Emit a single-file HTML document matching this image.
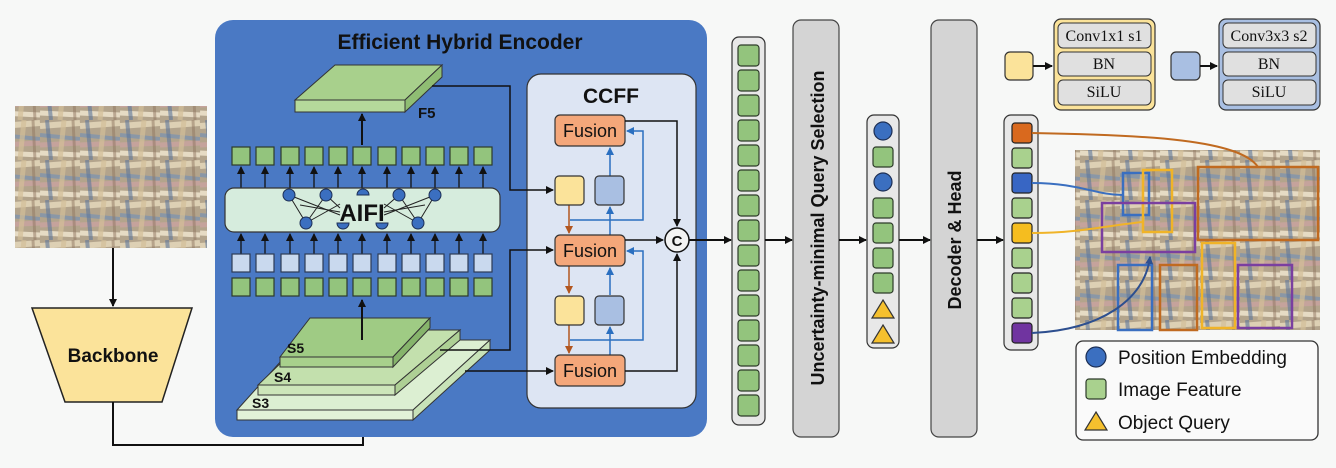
<!DOCTYPE html>
<html><head><meta charset="utf-8"><style>
html,body{margin:0;padding:0;background:#f7f8f7;}
svg{display:block;font-family:"Liberation Sans",sans-serif;}
.b{font-weight:bold;}
</style></head><body>
<svg width="1336" height="468" viewBox="0 0 1336 468" xmlns="http://www.w3.org/2000/svg">
<defs>
<marker id="ak" markerWidth="8" markerHeight="8" refX="7" refY="4" orient="auto" markerUnits="userSpaceOnUse"><path d="M0,0 L8,4 L0,8 z" fill="#111"/></marker>
<marker id="ab" markerWidth="8" markerHeight="8" refX="7" refY="4" orient="auto" markerUnits="userSpaceOnUse"><path d="M0,0 L8,4 L0,8 z" fill="#2a6fc0"/></marker>
<marker id="ao" markerWidth="8" markerHeight="8" refX="7" refY="4" orient="auto" markerUnits="userSpaceOnUse"><path d="M0,0 L8,4 L0,8 z" fill="#b2561f"/></marker>
<marker id="an" markerWidth="8" markerHeight="8" refX="7" refY="4" orient="auto" markerUnits="userSpaceOnUse"><path d="M0,0 L8,4 L0,8 z" fill="#2d4f8f"/></marker>
<pattern id="yarn" width="40" height="40" patternUnits="userSpaceOnUse">
<rect width="40" height="40" fill="#b3a48c"/>
<path d="M0,6 L40,3" stroke="#ddd0b4" stroke-width="6"/>
<path d="M0,15 L40,19" stroke="#7f93ad" stroke-width="4" opacity="0.8"/>
<path d="M0,25 L40,23" stroke="#c9a3a0" stroke-width="5" opacity="0.8"/>
<path d="M0,33 L40,35" stroke="#e6dbc4" stroke-width="5"/>
<path d="M7,0 L11,40" stroke="#5d769a" stroke-width="4" opacity="0.6"/>
<path d="M24,0 L20,40" stroke="#d3bf98" stroke-width="5" opacity="0.7"/>
<path d="M33,0 L35,40" stroke="#8f7560" stroke-width="3" opacity="0.5"/>
</pattern>
</defs>

<!-- input image -->
<rect x="15" y="106" width="192" height="142" fill="url(#yarn)"/>
<line x1="113" y1="248" x2="113" y2="306" stroke="#111" stroke-width="2" marker-end="url(#ak)"/>
<polygon points="32,308 192,308 162,402 65,402" fill="#fbe39a" stroke="#222" stroke-width="1.5"/>
<text x="113" y="362" text-anchor="middle" class="b" font-size="19" fill="#111">Backbone</text>
<polyline points="113,402 113,445 363,445 363,422" fill="none" stroke="#111" stroke-width="2" marker-end="url(#ak)"/>

<!-- encoder -->
<rect x="215" y="20" width="492" height="417" rx="18" fill="#4a79c4"/>
<text x="460" y="49" text-anchor="middle" class="b" font-size="21" fill="#111">Efficient Hybrid Encoder</text>
<!-- F5 -->
<polygon points="295,100 335,65 442,65 405,100" fill="#a8d08c" stroke="#333" stroke-width="1"/>
<polygon points="295,100 405,100 405,112 295,112" fill="#b5d99b" stroke="#333" stroke-width="1"/>
<polygon points="405,100 442,65 442,77 405,112" fill="#8fbd73" stroke="#333" stroke-width="1"/>
<text x="418" y="118" class="b" font-size="15" fill="#111">F5</text>
<line x1="362" y1="145" x2="362" y2="114" stroke="#111" stroke-width="2" marker-end="url(#ak)"/>
<g stroke="#2d3b2a" stroke-width="1.2">
<rect x="232" y="147" width="18" height="18" fill="#93c47d"/><rect x="256" y="147" width="18" height="18" fill="#93c47d"/><rect x="281" y="147" width="18" height="18" fill="#93c47d"/><rect x="305" y="147" width="18" height="18" fill="#93c47d"/><rect x="329" y="147" width="18" height="18" fill="#93c47d"/><rect x="353" y="147" width="18" height="18" fill="#93c47d"/><rect x="378" y="147" width="18" height="18" fill="#93c47d"/><rect x="402" y="147" width="18" height="18" fill="#93c47d"/><rect x="426" y="147" width="18" height="18" fill="#93c47d"/><rect x="450" y="147" width="18" height="18" fill="#93c47d"/><rect x="474" y="147" width="18" height="18" fill="#93c47d"/>
</g>
<g stroke="#111" stroke-width="1.3" marker-end="url(#ak)">
<line x1="241" y1="188" x2="241" y2="167"/><line x1="265" y1="188" x2="265" y2="167"/><line x1="290" y1="188" x2="290" y2="167"/><line x1="314" y1="188" x2="314" y2="167"/><line x1="338" y1="188" x2="338" y2="167"/><line x1="362" y1="188" x2="362" y2="167"/><line x1="387" y1="188" x2="387" y2="167"/><line x1="411" y1="188" x2="411" y2="167"/><line x1="435" y1="188" x2="435" y2="167"/><line x1="459" y1="188" x2="459" y2="167"/><line x1="483" y1="188" x2="483" y2="167"/>
<line x1="241" y1="254" x2="241" y2="234"/><line x1="265" y1="254" x2="265" y2="234"/><line x1="290" y1="254" x2="290" y2="234"/><line x1="314" y1="254" x2="314" y2="234"/><line x1="338" y1="254" x2="338" y2="234"/><line x1="362" y1="254" x2="362" y2="234"/><line x1="387" y1="254" x2="387" y2="234"/><line x1="411" y1="254" x2="411" y2="234"/><line x1="435" y1="254" x2="435" y2="234"/><line x1="459" y1="254" x2="459" y2="234"/><line x1="483" y1="254" x2="483" y2="234"/>
</g>
<rect x="225" y="188" width="275" height="44" rx="9" fill="#d6ecdd" stroke="#333" stroke-width="1.2"/>
<g stroke="#222" stroke-width="1">
<line x1="289" y1="195" x2="306" y2="223"/><line x1="289" y1="195" x2="340" y2="215"/><line x1="326" y1="195" x2="306" y2="223"/><line x1="326" y1="195" x2="340" y2="208"/><line x1="300" y1="205" x2="340" y2="212"/><line x1="306" y1="223" x2="340" y2="204"/>
<line x1="435" y1="195" x2="418" y2="223"/><line x1="435" y1="195" x2="384" y2="215"/><line x1="399" y1="195" x2="418" y2="223"/><line x1="399" y1="195" x2="384" y2="208"/><line x1="425" y1="205" x2="384" y2="212"/><line x1="418" y1="223" x2="384" y2="204"/>
</g>
<g fill="#3b6fc0" stroke="#1d2f55" stroke-width="1">
<circle cx="289" cy="195" r="6"/><circle cx="326" cy="195" r="6"/><circle cx="399" cy="195" r="6"/><circle cx="435" cy="195" r="6"/>
<circle cx="306" cy="223" r="6"/><circle cx="418" cy="223" r="6"/>
<path d="M357,195 a6,6 0 0 1 12,0 z"/><path d="M337,223 a6,6 0 0 0 12,0 z"/><path d="M376,223 a6,6 0 0 0 12,0 z"/>
</g>
<text x="362" y="221" text-anchor="middle" class="b" font-size="24" fill="#111">AIFI</text>
<g stroke="#2d3b55" stroke-width="1.2">
<rect x="232" y="254" width="18" height="18" fill="#c9d9ee"/><rect x="256" y="254" width="18" height="18" fill="#c9d9ee"/><rect x="281" y="254" width="18" height="18" fill="#c9d9ee"/><rect x="305" y="254" width="18" height="18" fill="#c9d9ee"/><rect x="329" y="254" width="18" height="18" fill="#c9d9ee"/><rect x="353" y="254" width="18" height="18" fill="#c9d9ee"/><rect x="378" y="254" width="18" height="18" fill="#c9d9ee"/><rect x="402" y="254" width="18" height="18" fill="#c9d9ee"/><rect x="426" y="254" width="18" height="18" fill="#c9d9ee"/><rect x="450" y="254" width="18" height="18" fill="#c9d9ee"/><rect x="474" y="254" width="18" height="18" fill="#c9d9ee"/>
</g>
<g stroke="#2d3b2a" stroke-width="1.2">
<rect x="232" y="278" width="18" height="18" fill="#93c47d"/><rect x="256" y="278" width="18" height="18" fill="#93c47d"/><rect x="281" y="278" width="18" height="18" fill="#93c47d"/><rect x="305" y="278" width="18" height="18" fill="#93c47d"/><rect x="329" y="278" width="18" height="18" fill="#93c47d"/><rect x="353" y="278" width="18" height="18" fill="#93c47d"/><rect x="378" y="278" width="18" height="18" fill="#93c47d"/><rect x="402" y="278" width="18" height="18" fill="#93c47d"/><rect x="426" y="278" width="18" height="18" fill="#93c47d"/><rect x="450" y="278" width="18" height="18" fill="#93c47d"/><rect x="474" y="278" width="18" height="18" fill="#93c47d"/>
</g>
<!-- slabs -->
<polygon points="237,410 300,340 490,340 413,410" fill="#dcefd2" stroke="#333" stroke-width="1"/>
<polygon points="237,410 413,410 413,420 237,420" fill="#e2f2d8" stroke="#333" stroke-width="1"/>
<polygon points="413,410 490,340 490,350 413,420" fill="#c8e2b8" stroke="#333" stroke-width="1"/>
<polygon points="258,385 315,330 460,330 395,385" fill="#c3e0ad" stroke="#333" stroke-width="1"/>
<polygon points="258,385 395,385 395,395 258,395" fill="#cde6ba" stroke="#333" stroke-width="1"/>
<polygon points="395,385 460,330 460,340 395,395" fill="#aed095" stroke="#333" stroke-width="1"/>
<polygon points="280,357 310,318 430,318 393,357" fill="#9fcb84" stroke="#333" stroke-width="1"/>
<polygon points="280,357 393,357 393,367 280,367" fill="#a8d08c" stroke="#333" stroke-width="1"/>
<polygon points="393,357 430,318 430,328 393,367" fill="#86b46b" stroke="#333" stroke-width="1"/>
<text x="287" y="353" class="b" font-size="14" fill="#111">S5</text>
<text x="274" y="382" class="b" font-size="14" fill="#111">S4</text>
<text x="252" y="408" class="b" font-size="14" fill="#111">S3</text>
<line x1="362" y1="340" x2="362" y2="300" stroke="#111" stroke-width="2" marker-end="url(#ak)"/>

<!-- CCFF -->
<rect x="527" y="74" width="169" height="334" rx="14" fill="#dde5f3" stroke="#333" stroke-width="1.2"/>
<text x="611" y="103" text-anchor="middle" class="b" font-size="21" fill="#111">CCFF</text>
<polyline points="432,86 510,86 510,190 553,190" fill="none" stroke="#111" stroke-width="1.5" marker-end="url(#ak)"/>
<polyline points="440,350 510,350 510,250 553,250" fill="none" stroke="#111" stroke-width="1.5" marker-end="url(#ak)"/>
<polyline points="465,371 553,371" fill="none" stroke="#111" stroke-width="1.5" marker-end="url(#ak)"/>
<g fill="none" stroke="#2a6fc0" stroke-width="1.5">
<line x1="610" y1="176" x2="610" y2="148" marker-end="url(#ab)"/>
<line x1="610" y1="235" x2="610" y2="207" marker-end="url(#ab)"/>
<polyline points="570,220 643,220 643,131 627,131" marker-end="url(#ab)"/>
<line x1="610" y1="295" x2="610" y2="268" marker-end="url(#ab)"/>
<line x1="610" y1="355" x2="610" y2="327" marker-end="url(#ab)"/>
<polyline points="570,340 643,340 643,251 627,251" marker-end="url(#ab)"/>
</g>
<g stroke="#b2561f" stroke-width="1.5">
<line x1="569" y1="205" x2="569" y2="233" marker-end="url(#ao)"/>
<line x1="569" y1="266" x2="569" y2="293" marker-end="url(#ao)"/>
<line x1="569" y1="325" x2="569" y2="353" marker-end="url(#ao)"/>
</g>
<g fill="#f4a77a" stroke="#333" stroke-width="1.2">
<rect x="555" y="115" width="70" height="31" rx="5"/>
<rect x="555" y="235" width="70" height="31" rx="5"/>
<rect x="555" y="355" width="70" height="31" rx="5"/>
</g>
<g font-size="18" fill="#111" text-anchor="middle">
<text x="590" y="137">Fusion</text><text x="590" y="257">Fusion</text><text x="590" y="377">Fusion</text>
</g>
<g stroke="#333" stroke-width="1.2">
<rect x="555" y="176" width="29" height="29" rx="4" fill="#fbe39a"/>
<rect x="595" y="176" width="29" height="29" rx="4" fill="#a9bfe2"/>
<rect x="555" y="296" width="29" height="29" rx="4" fill="#fbe39a"/>
<rect x="595" y="296" width="29" height="29" rx="4" fill="#a9bfe2"/>
</g>
<g fill="none" stroke="#111" stroke-width="1.5">
<polyline points="625,121 677,121 677,226" marker-end="url(#ak)"/>
<line x1="625" y1="240" x2="663" y2="240" marker-end="url(#ak)"/>
<polyline points="625,371 677,371 677,254" marker-end="url(#ak)"/>
</g>
<circle cx="677" cy="240" r="12" fill="#f3f3f3" stroke="#111" stroke-width="1.5"/>
<text x="677" y="246" text-anchor="middle" class="b" font-size="15" fill="#111">C</text>
<line x1="689" y1="240" x2="731" y2="240" stroke="#111" stroke-width="2" marker-end="url(#ak)"/>

<!-- token column -->
<rect x="732" y="37" width="33" height="388" rx="7" fill="#e8e8e8" stroke="#333" stroke-width="1.2"/>
<g fill="#93c47d" stroke="#2d3b2a" stroke-width="1.2">
<rect x="738" y="45" width="21" height="21" rx="3"/><rect x="738" y="70" width="21" height="21" rx="3"/><rect x="738" y="95" width="21" height="21" rx="3"/><rect x="738" y="120" width="21" height="21" rx="3"/><rect x="738" y="145" width="21" height="21" rx="3"/><rect x="738" y="170" width="21" height="21" rx="3"/><rect x="738" y="195" width="21" height="21" rx="3"/><rect x="738" y="220" width="21" height="21" rx="3"/><rect x="738" y="245" width="21" height="21" rx="3"/><rect x="738" y="270" width="21" height="21" rx="3"/><rect x="738" y="295" width="21" height="21" rx="3"/><rect x="738" y="320" width="21" height="21" rx="3"/><rect x="738" y="345" width="21" height="21" rx="3"/><rect x="738" y="370" width="21" height="21" rx="3"/><rect x="738" y="395" width="21" height="21" rx="3"/>
</g>
<line x1="765" y1="240" x2="792" y2="240" stroke="#111" stroke-width="2" marker-end="url(#ak)"/>
<rect x="793" y="20" width="46" height="417" rx="8" fill="#d4d4d4" stroke="#444" stroke-width="1.2"/>
<text transform="translate(824,228) rotate(-90)" text-anchor="middle" class="b" font-size="18" fill="#111">Uncertainty-minimal Query Selection</text>
<line x1="839" y1="240" x2="866" y2="240" stroke="#111" stroke-width="2" marker-end="url(#ak)"/>
<rect x="867" y="115" width="32" height="233" rx="7" fill="#e8e8e8" stroke="#333" stroke-width="1.2"/>
<g fill="#3b6fc0" stroke="#1d2f55" stroke-width="1.2"><circle cx="883" cy="131" r="9"/><circle cx="883" cy="182" r="9"/></g>
<g fill="#93c47d" stroke="#2d3b2a" stroke-width="1.2">
<rect x="873" y="147" width="20" height="20" rx="3"/><rect x="873" y="198" width="20" height="20" rx="3"/><rect x="873" y="223" width="20" height="20" rx="3"/><rect x="873" y="248" width="20" height="20" rx="3"/><rect x="873" y="273" width="20" height="20" rx="3"/>
</g>
<g fill="#f5c02e" stroke="#333" stroke-width="1.2"><polygon points="883,300 894,318 872,318"/><polygon points="883,325 894,343 872,343"/></g>
<line x1="899" y1="240" x2="930" y2="240" stroke="#111" stroke-width="2" marker-end="url(#ak)"/>
<rect x="931" y="20" width="46" height="417" rx="8" fill="#d4d4d4" stroke="#444" stroke-width="1.2"/>
<text transform="translate(961,240) rotate(-90)" text-anchor="middle" class="b" font-size="18" fill="#111">Decoder &amp; Head</text>
<line x1="977" y1="240" x2="1003" y2="240" stroke="#111" stroke-width="2" marker-end="url(#ak)"/>

<!-- conv legend -->
<rect x="1005" y="52" width="28" height="28" rx="5" fill="#fbe39a" stroke="#333" stroke-width="1.2"/>
<line x1="1033" y1="66" x2="1052" y2="66" stroke="#111" stroke-width="2" marker-end="url(#ak)"/>
<rect x="1054" y="19" width="101" height="91" rx="7" fill="#fbe39a" stroke="#333" stroke-width="1.2"/>
<g fill="#e0e0e0" stroke="#333" stroke-width="1"><rect x="1058" y="23" width="93" height="25" rx="5"/><rect x="1058" y="52" width="93" height="24" rx="5"/><rect x="1058" y="80" width="93" height="25" rx="5"/></g>
<g font-family="Liberation Serif,serif" font-size="16" fill="#111" text-anchor="middle"><text x="1104" y="41">Conv1x1 s1</text><text x="1104" y="69">BN</text><text x="1104" y="97">SiLU</text></g>
<rect x="1171" y="52" width="29" height="28" rx="5" fill="#a9bfe2" stroke="#333" stroke-width="1.2"/>
<line x1="1200" y1="66" x2="1217" y2="66" stroke="#111" stroke-width="2" marker-end="url(#ak)"/>
<rect x="1219" y="19" width="101" height="91" rx="7" fill="#a9bfe2" stroke="#333" stroke-width="1.2"/>
<g fill="#e0e0e0" stroke="#333" stroke-width="1"><rect x="1223" y="23" width="93" height="25" rx="5"/><rect x="1223" y="52" width="93" height="24" rx="5"/><rect x="1223" y="80" width="93" height="25" rx="5"/></g>
<g font-family="Liberation Serif,serif" font-size="16" fill="#111" text-anchor="middle"><text x="1269" y="41">Conv3x3 s2</text><text x="1269" y="69">BN</text><text x="1269" y="97">SiLU</text></g>

<!-- output column -->
<rect x="1004" y="115" width="34" height="235" rx="7" fill="#e8e8e8" stroke="#333" stroke-width="1.2"/>
<g stroke="#222" stroke-width="1.2">
<rect x="1012" y="123" width="20" height="20" rx="3" fill="#d9691e"/>
<rect x="1012" y="148" width="20" height="20" rx="3" fill="#a9d18e"/>
<rect x="1012" y="173" width="20" height="20" rx="3" fill="#3866c4"/>
<rect x="1012" y="198" width="20" height="20" rx="3" fill="#a9d18e"/>
<rect x="1012" y="223" width="20" height="20" rx="3" fill="#f5bd1f"/>
<rect x="1012" y="248" width="20" height="20" rx="3" fill="#a9d18e"/>
<rect x="1012" y="273" width="20" height="20" rx="3" fill="#a9d18e"/>
<rect x="1012" y="298" width="20" height="20" rx="3" fill="#a9d18e"/>
<rect x="1012" y="323" width="20" height="20" rx="3" fill="#7034a0"/>
</g>

<!-- output image -->
<rect x="1075" y="150" width="245" height="180" fill="url(#yarn)"/>
<g fill="none" stroke-width="2.5">
<rect x="1123" y="173" width="26" height="42" stroke="#3a6fc0"/>
<rect x="1143" y="170" width="29" height="62" stroke="#f0b428"/>
<rect x="1102" y="203" width="93" height="49" stroke="#7a3fa0"/>
<rect x="1198" y="167" width="120" height="73" stroke="#c06a20"/>
<rect x="1118" y="265" width="34" height="65" stroke="#3a6fc0"/>
<rect x="1160" y="265" width="37" height="65" stroke="#c06a20"/>
<rect x="1202" y="243" width="33" height="85" stroke="#f0b428"/>
<rect x="1238" y="265" width="54" height="63" stroke="#7a3fa0"/>
</g>
<g fill="none" stroke-width="2">
<path d="M1032,133 C1150,135 1240,140 1258,167" stroke="#c06a20"/>
<path d="M1032,183 C1080,183 1095,195 1123,195" stroke="#3a6fc0"/>
<path d="M1032,233 C1080,233 1110,225 1143,222" stroke="#f0b428"/>
<path d="M1032,333 C1100,330 1145,300 1150,257" stroke="#2d4f8f" marker-end="url(#an)"/>
</g>

<!-- legend -->
<rect x="1076" y="341" width="242" height="99" rx="7" fill="#fafafa" stroke="#333" stroke-width="1.3"/>
<circle cx="1096" cy="357" r="10" fill="#3b6fc0" stroke="#1d2f55" stroke-width="1.2"/>
<rect x="1086" y="379" width="20" height="20" rx="3" fill="#a9d18e" stroke="#2d3b2a" stroke-width="1.2"/>
<polygon points="1096,412 1107,430 1085,430" fill="#f5c02e" stroke="#333" stroke-width="1.2"/>
<g font-size="19" fill="#111"><text x="1118" y="364">Position Embedding</text><text x="1118" y="396">Image Feature</text><text x="1118" y="429">Object Query</text></g>
</svg>
</body></html>
